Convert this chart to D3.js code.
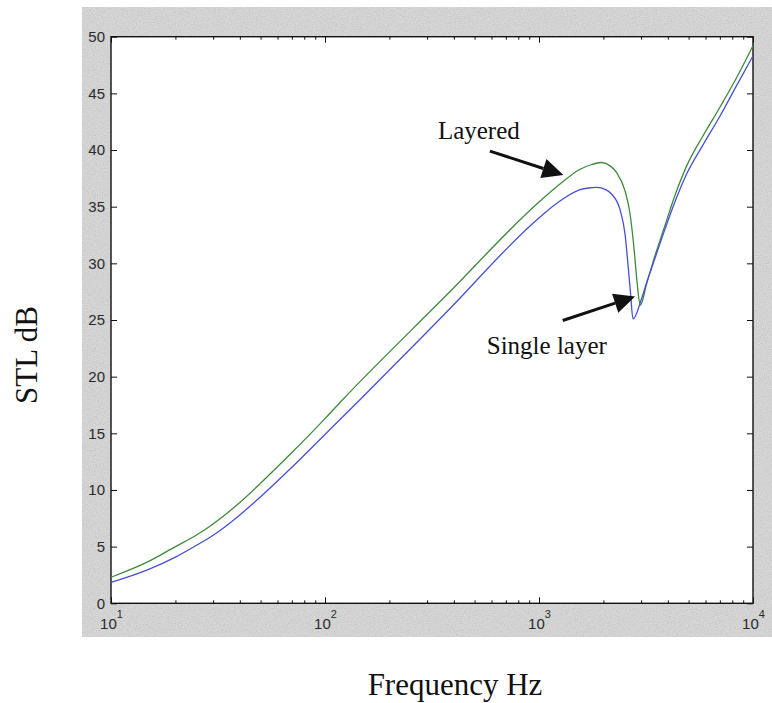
<!DOCTYPE html>
<html>
<head>
<meta charset="utf-8">
<script src="https://cdn.jsdelivr.net/npm/d3@7"></script>
<style>
  html, body { margin: 0; padding: 0; background: #fff; }
  svg { display: block; }
</style>
</head>
<body>
<script>
// data (frequency in Hz, STL in dB)
const layeredFreq = [10, 15, 20, 25, 30, 40, 50, 70, 100, 120, 370, 1012, 1253, 1556, 1750, 1963, 2150, 2306, 2523, 2662, 2787, 2877, 2975, 3184, 3420, 3810, 4397, 4900, 5860, 7015, 8390, 10000];
const layeredStl  = [2.3, 3.7, 5.0, 6.0, 7.0, 8.9, 10.6, 13.3, 16.3, 17.9, 27.2, 35.5, 37.0, 38.3, 38.7, 38.9, 38.6, 38.0, 36.4, 34.4, 31.1, 28.2, 26.3, 28.2, 30.2, 32.9, 36.4, 38.6, 41.3, 43.8, 46.4, 49.2];

const singleFreq = [10, 15, 20, 25, 30, 40, 50, 70, 100, 144.5, 370, 1012, 1253, 1556, 1700, 1862, 2050, 2188, 2395, 2523, 2611, 2679, 2750, 3017, 3184, 3420, 3810, 4397, 4900, 5860, 7015, 8390, 10000];
const singleStl  = [1.85, 3.0, 4.08, 5.1, 6.0, 7.8, 9.4, 12.0, 14.9, 17.9, 25.7, 34.1, 35.5, 36.5, 36.65, 36.7, 36.5, 36.1, 34.7, 32.6, 29.7, 27.3, 25.1, 26.9, 28.3, 30.0, 32.6, 35.8, 37.9, 40.5, 43.0, 45.7, 48.3];

const yTicks = [0, 5, 10, 15, 20, 25, 30, 35, 40, 45, 50];
const xMajor = [10, 100, 1000, 10000];
const xExponents = ['1', '2', '3', '4'];

// arrows: tail and tip in data space
const annotations = [
  { label: 'Layered', text: [337, 41.0], tail: [590, 39.9], tip: [1300, 37.8] },
  { label: 'Single layer', text: [570, 22.0], tail: [1291, 24.96], tip: [2812, 27.07] }
];

const W = 772, H = 703;
const PLOT = { left: 111, right: 753, top: 36.7, bottom: 603.3 };
const GREEN = '#3d8a3d', BLUE = '#4650d4';

const svg = d3.select('body').append('svg')
  .attr('xmlns', 'http://www.w3.org/2000/svg')
  .attr('width', W).attr('height', H);

// speckled grey figure background
const defs = svg.append('defs');
const noise = defs.append('filter').attr('id', 'noise')
  .attr('x', 0).attr('y', 0).attr('width', '100%').attr('height', '100%');
noise.append('feTurbulence').attr('type', 'fractalNoise')
  .attr('baseFrequency', 0.85).attr('numOctaves', 2).attr('seed', 4);
noise.append('feColorMatrix').attr('type', 'matrix')
  .attr('values', '0.33 0.33 0.33 0 0  0.33 0.33 0.33 0 0  0.33 0.33 0.33 0 0  0 0 0 0 1');

svg.append('rect').attr('x', 82).attr('y', 7).attr('width', W - 82).attr('height', 630)
  .attr('fill', '#dcdcdc');
svg.append('rect').attr('x', 82).attr('y', 7).attr('width', W - 82).attr('height', 630)
  .attr('filter', 'url(#noise)').attr('opacity', 0.28);

// plot area
svg.append('rect')
  .attr('x', PLOT.left).attr('y', PLOT.top)
  .attr('width', PLOT.right - PLOT.left).attr('height', PLOT.bottom - PLOT.top)
  .attr('fill', '#fff');

const x = d3.scaleLog().domain([10, 10000]).range([PLOT.left, PLOT.right]);
const y = d3.scaleLinear().domain([0, 50]).range([PLOT.bottom, PLOT.top]);

// minor log ticks 2..9 per decade
let xMinor = [];
for (let d = 10; d < 10000; d *= 10) {
  for (let k = 2; k <= 9; k++) xMinor.push(d * k);
}

const tickFont = '"Liberation Sans", Arial, sans-serif';

function styleAxis(g) {
  g.select('.domain').remove();
  g.selectAll('.tick line').attr('stroke', '#111').attr('stroke-width', 1);
  g.selectAll('.tick text').attr('fill', '#2a2a2a').attr('font-family', tickFont).attr('font-size', 15);
}

// left axis with labels, right axis ticks only
svg.append('g').attr('transform', `translate(${PLOT.left},0)`)
  .call(d3.axisLeft(y).tickValues(yTicks).tickSize(-6).tickPadding(6).tickFormat(d3.format('d')))
  .call(styleAxis);
svg.append('g').attr('transform', `translate(${PLOT.right},0)`)
  .call(d3.axisRight(y).tickValues(yTicks).tickSize(-6).tickFormat(''))
  .call(styleAxis);

// bottom/top minor ticks
svg.append('g').attr('transform', `translate(0,${PLOT.bottom})`)
  .call(d3.axisBottom(x).tickValues(xMinor).tickSize(-3).tickFormat(''))
  .call(styleAxis);
svg.append('g').attr('transform', `translate(0,${PLOT.top})`)
  .call(d3.axisTop(x).tickValues(xMinor).tickSize(-3).tickFormat(''))
  .call(styleAxis);
svg.append('g').attr('transform', `translate(0,${PLOT.top})`)
  .call(d3.axisTop(x).tickValues(xMajor).tickSize(-6).tickFormat(''))
  .call(styleAxis);

// bottom major ticks with 10^n labels
const xAxisG = svg.append('g').attr('transform', `translate(0,${PLOT.bottom})`)
  .call(d3.axisBottom(x).tickValues(xMajor).tickSize(-6).tickFormat(''))
  .call(styleAxis);
xAxisG.selectAll('.tick text')
  .attr('y', 26).attr('dy', 0)
  .each(function(d, i) {
    const t = d3.select(this);
    t.append('tspan').text('10');
    t.append('tspan').attr('dy', -11).attr('font-size', 11).text(xExponents[i]);
  });

// frame
svg.append('rect')
  .attr('x', PLOT.left).attr('y', PLOT.top)
  .attr('width', PLOT.right - PLOT.left).attr('height', PLOT.bottom - PLOT.top)
  .attr('fill', 'none').attr('stroke', '#111').attr('stroke-width', 1.4);

// curves
const line = d3.line().curve(d3.curveMonotoneX).x(d => x(d[0])).y(d => y(d[1]));

svg.append('path')
  .datum(d3.zip(layeredFreq, layeredStl))
  .attr('d', line)
  .attr('fill', 'none').attr('stroke', GREEN).attr('stroke-width', 1.3);

svg.append('path')
  .datum(d3.zip(singleFreq, singleStl))
  .attr('d', line)
  .attr('fill', 'none').attr('stroke', BLUE).attr('stroke-width', 1.3);

// annotations with arrows
const serif = '"Liberation Serif", "Times New Roman", serif';
const HEAD_LEN = 21, HEAD_W = 20;

annotations.forEach(a => {
  const tx = x(a.tail[0]), ty = y(a.tail[1]);
  const px = x(a.tip[0]), py = y(a.tip[1]);
  const ang = Math.atan2(py - ty, px - tx);
  const bx = px - HEAD_LEN * Math.cos(ang), by = py - HEAD_LEN * Math.sin(ang);
  const nx = -Math.sin(ang) * HEAD_W / 2, ny = Math.cos(ang) * HEAD_W / 2;

  svg.append('line')
    .attr('x1', tx).attr('y1', ty).attr('x2', bx).attr('y2', by)
    .attr('stroke', '#111').attr('stroke-width', 3);
  svg.append('path')
    .attr('d', `M${px},${py}L${bx + nx},${by + ny}L${bx - nx},${by - ny}Z`)
    .attr('fill', '#111');

  svg.append('text')
    .attr('x', x(a.text[0])).attr('y', y(a.text[1]))
    .attr('font-family', serif).attr('font-size', 25).attr('fill', '#111')
    .text(a.label);
});

// axis titles
svg.append('text')
  .attr('transform', 'translate(36.5,355) rotate(-90)')
  .attr('text-anchor', 'middle')
  .attr('font-family', serif).attr('font-size', 31).attr('fill', '#111')
  .text('STL dB');

svg.append('text')
  .attr('x', 455).attr('y', 695)
  .attr('text-anchor', 'middle')
  .attr('font-family', serif).attr('font-size', 31).attr('fill', '#111')
  .text('Frequency Hz');
</script>
</body>
</html>
